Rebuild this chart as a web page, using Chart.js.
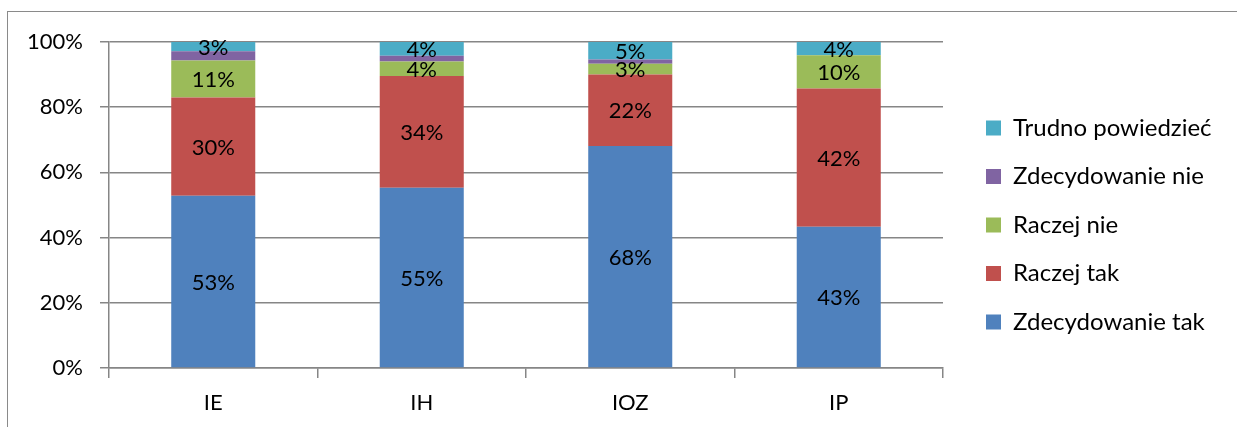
<!DOCTYPE html>
<html>
<head>
<meta charset="utf-8">
<script src="https://cdn.jsdelivr.net/npm/chart.js@4"></script>
<style>
  html, body { margin: 0; padding: 0; background: #fff; }
  #wrap { position: relative; width: 1237px; height: 427px; overflow: hidden; }
  #frame { position: absolute; left: 7px; top: 11px; width: 1300px; height: 500px;
           border-left: 1.5px solid #8a8a8a; border-top: 1.5px solid #8a8a8a; }
  canvas { position: absolute; left: 0; top: 0; }
</style>
</head>
<body>
<div id="wrap">
  <div id="frame"></div>
  <canvas id="chart" width="1237" height="427"></canvas>
</div>
<script>
/* ── DATA (shares per institute, %) ── */
const categories = ['IE', 'IH', 'IOZ', 'IP'];
const zdecydowanieTak  = [52.8, 55.3, 68.1, 43.3];
const raczejTak        = [30.2, 34.3, 21.9, 42.4];
const raczejNie        = [11.3, 4.4, 3.3, 10.2];
const zdecydowanieNie  = [2.9, 1.8, 1.3, 0];
const trudnoPowiedziec = [2.8, 4.2, 5.4, 4.1];
const yTicks = [0, 20, 40, 60, 80, 100];

const FONT = 'Lato, "Open Sans", sans-serif';
const GRID = '#868686';

/* ── plugin: values inside segments ── */
const segLabels = {
  id: 'segLabels',
  afterDatasetsDraw(chart) {
    const c = chart.ctx;
    c.save();
    c.font = '22px ' + FONT;
    c.fillStyle = '#000';
    c.textAlign = 'center';
    c.textBaseline = 'middle';
    chart.data.datasets.forEach((ds, i) => {
      if (ds.hideLabels) return;
      chart.getDatasetMeta(i).data.forEach((bar, j) => {
        const v = ds.data[j];
        if (!v) return;
        const mid = (bar.y + bar.base) / 2;
        c.fillText(Math.round(v) + '%', bar.x, mid + 1);
      });
    });
    c.restore();
  }
};

/* ── plugin: legend on the right (reversed order) ── */
const sideLegend = {
  id: 'sideLegend',
  afterDraw(chart) {
    const c = chart.ctx;
    const items = chart.data.datasets.slice().reverse();
    c.save();
    c.font = '24px ' + FONT;
    c.textBaseline = 'middle';
    c.textAlign = 'left';
    items.forEach((ds, k) => {
      const y = 128 + k * 48.5;
      c.fillStyle = ds.backgroundColor;
      c.fillRect(986, y - 7.5, 15, 15);
      c.fillStyle = '#000';
      c.fillText(ds.label, 1013, y);
    });
    c.restore();
  }
};

const mk = (label, data, color, extra) => Object.assign({
  label, data, backgroundColor: color, borderWidth: 0,
  categoryPercentage: 1, barPercentage: 0.403
}, extra || {});

new Chart(document.getElementById('chart'), {
  type: 'bar',
  data: {
    labels: categories,
    datasets: [
      mk('Zdecydowanie tak', zdecydowanieTak, '#4F81BD'),
      mk('Raczej tak', raczejTak, '#C0504D'),
      mk('Raczej nie', raczejNie, '#9BBB59'),
      mk('Zdecydowanie nie', zdecydowanieNie, '#8064A2', { hideLabels: true }),
      mk('Trudno powiedzieć', trudnoPowiedziec, '#4BACC6')
    ]
  },
  options: {
    responsive: false, animation: false,
    layout: { padding: { left: 0, top: 42, right: 294, bottom: 0 } },
    plugins: { legend: { display: false }, tooltip: { enabled: false } },
    scales: {
      x: {
        stacked: true,
        grid: { offset: true, drawOnChartArea: false, color: GRID, lineWidth: 1.5, tickLength: 10 },
        border: { color: GRID, width: 1.5 },
        ticks: { color: '#000', font: { family: FONT, size: 22 }, padding: 12 },
        afterFit: s => { s.height = 59; }
      },
      y: {
        stacked: true, min: 0, max: 100,
        afterBuildTicks: s => { s.ticks = yTicks.map(v => ({ value: v })); },
        grid: { color: GRID, lineWidth: 1.5, tickLength: 9 },
        border: { color: GRID, width: 1.5 },
        ticks: { color: '#000', font: { family: FONT, size: 22 }, padding: 17, callback: v => v + '%' },
        afterFit: s => { s.width = 109; }
      }
    }
  },
  plugins: [segLabels, sideLegend]
});
</script>
</body>
</html>
